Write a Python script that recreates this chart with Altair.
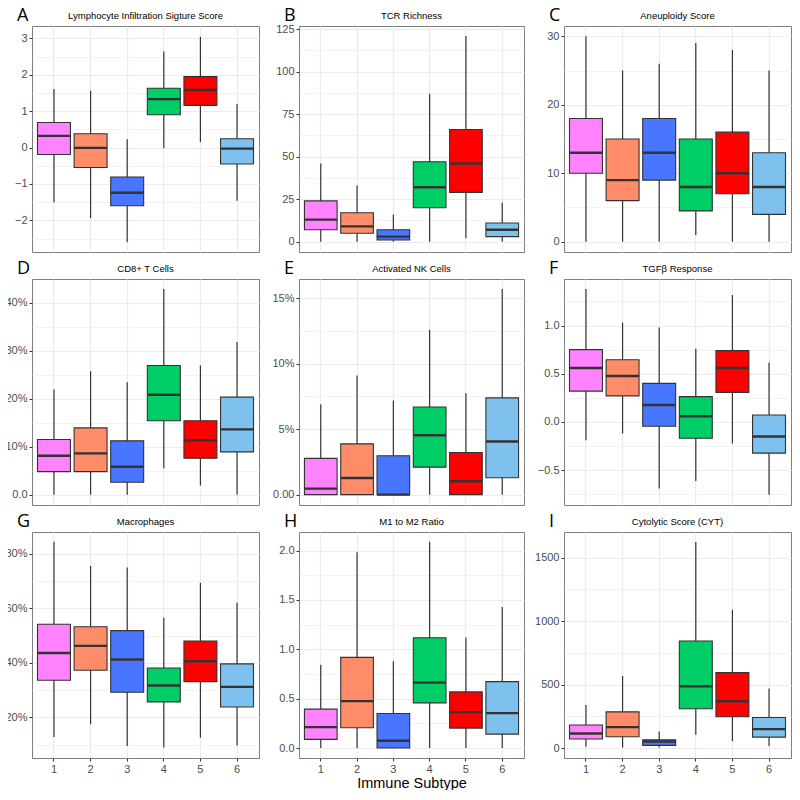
import json
import altair as alt
import pandas as pd

SUBTYPES = ["1", "2", "3", "4", "5", "6"]
COLORS = ["#FF82FF", "#FF8C69", "#4876FF", "#00CD66", "#FF0000", "#7EC0EE"]
LETTERS = ["A", "B", "C", "D", "E", "F", "G", "H", "I"]
TITLES = [
    "Lymphocyte Infiltration Sigture Score", "TCR Richness", "Aneuploidy Score",
    "CD8+ T Cells", "Activated NK Cells", "TGF\u03b2 Response",
    "Macrophages", "M1 to M2 Ratio", "Cytolytic Score (CYT)",
]
X_TITLE = "Immune Subtype"

# box statistics per subtype: lower whisker, Q1, median, Q3, upper whisker
LIS_LO = [-1.50, -1.94, -2.60, -0.02, 0.15, -1.46]
LIS_Q1 = [-0.19, -0.55, -1.60, 0.90, 1.16, -0.45]
LIS_MED = [0.32, -0.01, -1.24, 1.33, 1.58, -0.03]
LIS_Q3 = [0.69, 0.38, -0.81, 1.63, 1.95, 0.24]
LIS_HI = [1.61, 1.56, 0.23, 2.64, 3.04, 1.20]

TCR_LO = [0, 0, 0, 0, 2, 0]
TCR_Q1 = [7, 5, 1, 20, 29, 3]
TCR_MED = [13, 9, 3, 32, 46, 7]
TCR_Q3 = [24, 17, 7, 47, 66, 11]
TCR_HI = [46, 33, 16, 87, 121, 23]

ANE_LO = [0, 0, 0, 1, 0, 0]
ANE_Q1 = [10, 6, 9, 4.5, 7, 4]
ANE_MED = [13, 9, 13, 8, 10, 8]
ANE_Q3 = [18, 15, 18, 15, 16, 13]
ANE_HI = [30, 25, 26, 29, 28, 25]

CD8_LO = [0, 0, 0, 0.055, 0.019, 0]
CD8_Q1 = [0.048, 0.048, 0.026, 0.154, 0.076, 0.089]
CD8_MED = [0.081, 0.086, 0.058, 0.208, 0.113, 0.136]
CD8_Q3 = [0.115, 0.139, 0.112, 0.269, 0.154, 0.203]
CD8_HI = [0.219, 0.257, 0.234, 0.428, 0.269, 0.318]

NK_LO = [0, 0, 0, 0, 0, 0]
NK_Q1 = [0, 0, 0, 0.021, 0, 0.0129]
NK_MED = [0.0046, 0.0127, 0.0, 0.0454, 0.0102, 0.0406]
NK_Q3 = [0.0277, 0.0388, 0.0297, 0.067, 0.0322, 0.0739]
NK_HI = [0.069, 0.091, 0.072, 0.126, 0.0774, 0.157]

TGF_LO = [-0.19, -0.12, -0.69, -0.614, -0.224, -0.755]
TGF_Q1 = [0.32, 0.27, -0.045, -0.169, 0.307, -0.324]
TGF_MED = [0.56, 0.476, 0.176, 0.059, 0.56, -0.152]
TGF_Q3 = [0.75, 0.645, 0.40, 0.262, 0.74, 0.072]
TGF_HI = [1.38, 1.03, 0.98, 0.76, 1.317, 0.617]

MAC_LO = [0.128, 0.175, 0.095, 0.09, 0.126, 0.097]
MAC_Q1 = [0.336, 0.373, 0.292, 0.257, 0.331, 0.238]
MAC_MED = [0.436, 0.462, 0.412, 0.317, 0.406, 0.312]
MAC_Q3 = [0.541, 0.532, 0.518, 0.381, 0.48, 0.396]
MAC_HI = [0.843, 0.755, 0.749, 0.565, 0.693, 0.62]

M12_LO = [0, 0, 0, 0, 0, 0]
M12_Q1 = [0.0875, 0.205, 0, 0.458, 0.202, 0.141]
M12_MED = [0.212, 0.475, 0.074, 0.663, 0.364, 0.354]
M12_Q3 = [0.394, 0.919, 0.35, 1.118, 0.569, 0.673]
M12_HI = [0.845, 1.983, 0.879, 2.09, 1.121, 1.428]

CYT_LO = [10, 3, 5, 105, 55, 16]
CYT_Q1 = [71, 89, 21, 309, 246, 86]
CYT_MED = [115, 165, 52, 487, 369, 149]
CYT_Q3 = [181, 285, 65, 843, 594, 241]
CYT_HI = [338, 568, 131, 1623, 1089, 469]

# y axes: domain, major ticks, minor grid lines, label expression
PANELS = [
    (LIS_LO, LIS_Q1, LIS_MED, LIS_Q3, LIS_HI, [-2.87, 3.34], [-2, -1, 0, 1, 2, 3],
     [-2.5, -1.5, -0.5, 0.5, 1.5, 2.5], "format(datum.value, 'd')"),
    (TCR_LO, TCR_Q1, TCR_MED, TCR_Q3, TCR_HI, [-6.05, 126.9], [0, 25, 50, 75, 100, 125],
     [12.5, 37.5, 62.5, 87.5, 112.5], "format(datum.value, 'd')"),
    (ANE_LO, ANE_Q1, ANE_MED, ANE_Q3, ANE_HI, [-1.5, 31.5], [0, 10, 20, 30],
     [5, 15, 25], "format(datum.value, 'd')"),
    (CD8_LO, CD8_Q1, CD8_MED, CD8_Q3, CD8_HI, [-0.0215, 0.449], [0, 0.1, 0.2, 0.3, 0.4],
     [0.05, 0.15, 0.25, 0.35], "datum.value == 0 ? '0.0' : format(datum.value, '.0%')"),
    (NK_LO, NK_Q1, NK_MED, NK_Q3, NK_HI, [-0.0079, 0.1647], [0, 0.05, 0.1, 0.15],
     [0.025, 0.075, 0.125], "datum.value == 0 ? '0.00' : format(datum.value, '.0%')"),
    (TGF_LO, TGF_Q1, TGF_MED, TGF_Q3, TGF_HI, [-0.862, 1.483], [-0.5, 0, 0.5, 1.0],
     [-0.75, -0.25, 0.25, 0.75, 1.25], "format(datum.value, '.1f')"),
    (MAC_LO, MAC_Q1, MAC_MED, MAC_Q3, MAC_HI, [0.0515, 0.879], [0.2, 0.4, 0.6, 0.8],
     [0.1, 0.3, 0.5, 0.7], "format(datum.value, '.0%')"),
    (M12_LO, M12_Q1, M12_MED, M12_Q3, M12_HI, [-0.101, 2.189], [0, 0.5, 1.0, 1.5, 2.0],
     [0.25, 0.75, 1.25, 1.75], "format(datum.value, '.1f')"),
    (CYT_LO, CYT_Q1, CYT_MED, CYT_Q3, CYT_HI, [-78.5, 1701.6], [0, 500, 1000, 1500],
     [250, 750, 1250], "format(datum.value, 'd')"),
]

WIDTHS = [227, 225, 227]
HEIGHT = 226
FONT = "Liberation Sans"
DARK = "#333333"
GRID = "#EBEBEB"


def panel(i):
    lo, q1, med, q3, hi, domain, major, minor, lab = PANELS[i]
    row, col = divmod(i, 3)
    width = WIDTHS[col]
    bandwidth = width / 6.2 * 0.9
    df = pd.DataFrame({"subtype": SUBTYPES, "lo": lo, "q1": q1, "med": med,
                       "q3": q3, "hi": hi})
    is_minor = f"indexof({json.dumps(minor)}, datum.value) >= 0"
    yaxis = alt.Axis(
        values=major + minor,
        labelExpr=f"{is_minor} ? '' : ({lab})",
        title=None,
        tickOpacity={"condition": {"test": is_minor, "value": 0}, "value": 1},
        gridWidth={"condition": {"test": is_minor, "value": 0.6}, "value": 1.2},
        gridColor=GRID,
        tickSize=3,
        labelPadding=2,
    )
    yscale = alt.Scale(domain=domain, nice=False, zero=False)
    bottom = row == 2
    xaxis = alt.Axis(
        bandPosition=0.5,
        grid=True,
        gridColor=GRID,
        gridWidth=1.2,
        labels=bottom,
        ticks=bottom,
        labelAngle=0,
        labelPadding=2,
        tickSize=3,
        title=X_TITLE if (bottom and col == 1) else None,
        titleFontSize=14.5,
        titleFont=FONT,
        titleFontWeight="normal",
        titleColor="black",
        titlePadding=2,
    )
    xenc = alt.X("subtype:O", scale=alt.Scale(domain=SUBTYPES, paddingInner=0.1,
                                                paddingOuter=0.15), axis=xaxis)
    color = alt.Color("subtype:N", scale=alt.Scale(domain=SUBTYPES, range=COLORS),
                      legend=None)
    base = alt.Chart(df)
    whisk = base.mark_rule(color=DARK, strokeWidth=1.2).encode(
        x=xenc, y=alt.Y("lo:Q", scale=yscale, axis=yaxis), y2="hi:Q")
    box = base.mark_bar(stroke=DARK, strokeWidth=1.1, opacity=1).encode(
        x=xenc, y=alt.Y("q1:Q", scale=yscale, axis=yaxis), y2="q3:Q", color=color)
    mid = base.mark_tick(color=DARK, thickness=2.4, size=bandwidth, opacity=1).encode(
        x=xenc, y=alt.Y("med:Q", scale=yscale, axis=yaxis))
    labels = alt.Chart(alt.Data(values=[{"letter": LETTERS[i], "title": TITLES[i]}]))
    letter = labels.mark_text(
        align="left", baseline="alphabetic", fontSize=18, font="Open Sans",
        color="black").encode(x=alt.value(-15), y=alt.value(-5), text="letter:N")
    title = labels.mark_text(
        align="center", baseline="alphabetic", fontSize=9.5, font=FONT,
        color="black").encode(x=alt.value(width / 2), y=alt.value(-7), text="title:N")
    return alt.layer(whisk, box, mid, letter, title).properties(width=width, height=HEIGHT)


chart = alt.concat(*[panel(i) for i in range(9)], columns=3,
                   spacing={"row": 27, "column": 40}, bounds="flush").properties(
    padding={"left": -4, "top": -2, "right": 0, "bottom": 0},
    background="white",
).configure_view(stroke="#7F7F7F", strokeWidth=1).configure_axis(
    domain=False, labelFont=FONT, labelFontSize=11, labelColor="#4D4D4D",
    tickColor=DARK,
)

chart.save("out.html", embed_options={"renderer": "svg", "actions": False})
